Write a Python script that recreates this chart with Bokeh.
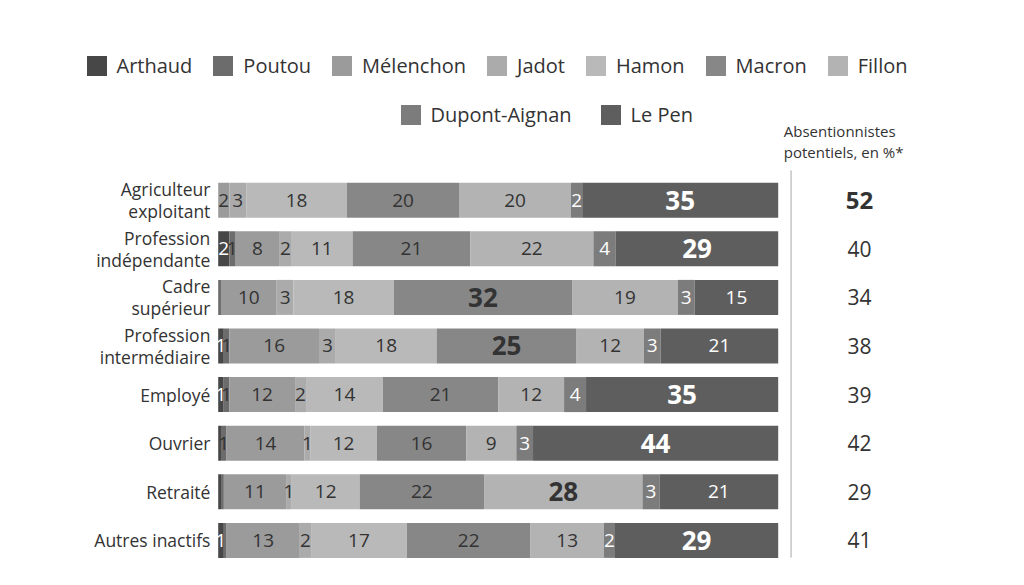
from bokeh.plotting import figure
from bokeh.models import ColumnDataSource, Range1d, Legend, LegendItem
from bokeh.core.properties import value
from bokeh.embed import file_html
from bokeh.resources import INLINE

categories = ["Agriculteur\nexploitant", "Profession\nindépendante", "Cadre\nsupérieur",
              "Profession\nintermédiaire", "Employé", "Ouvrier", "Retraité", "Autres inactifs"]
candidates = ["Arthaud", "Poutou", "Mélenchon", "Jadot", "Hamon", "Macron", "Fillon",
              "Dupont-Aignan", "Le Pen"]
keys = ["arthaud", "poutou", "melenchon", "jadot", "hamon", "macron", "fillon",
        "dupont_aignan", "le_pen"]

arthaud = [0, 2, 0, 1, 1, 0.5, 0.5, 1]
poutou = [0, 1, 0.5, 1, 1, 1, 0.5, 0.5]
melenchon = [2, 8, 10, 16, 12, 14, 11, 13]
jadot = [3, 2, 3, 3, 2, 1, 1, 2]
hamon = [18, 11, 18, 18, 14, 12, 12, 17]
macron = [20, 21, 32, 25, 21, 16, 22, 22]
fillon = [20, 22, 19, 12, 12, 9, 28, 13]
dupont_aignan = [2, 4, 3, 3, 4, 3, 3, 2]
le_pen = [35, 29, 15, 21, 35, 44, 21, 29]
abstention = [52, 40, 34, 38, 39, 42, 29, 41]

colors = ["#474747", "#6c6c6c", "#9b9b9b", "#ababab", "#b9b9b9", "#878787", "#b3b3b3",
          "#7c7c7c", "#5e5e5e"]
white_text = {"arthaud", "dupont_aignan", "le_pen"}

series = [arthaud, poutou, melenchon, jadot, hamon, macron, fillon, dupont_aignan, le_pen]
rows = list(range(len(categories)))
totals = [sum(s[i] for s in series) for i in rows]

data = {"y": rows}
for k, s in zip(keys, series):
    data[k] = [s[i] / totals[i] * 100 for i in rows]
source = ColumnDataSource(data)

FONT = value("Open Sans")
DARK = "#333333"

p = figure(width=1008, height=569, x_range=Range1d(-38.875, 141.125), y_range=Range1d(7.599, -4.109),
           min_border=0, toolbar_location=None, output_backend="svg")
p.axis.visible = False
p.grid.visible = False
p.outline_line_color = None
p.background_fill_color = "white"

renderers = p.hbar_stack(keys, y="y", height=0.72, color=colors, line_color=None, source=source)

# segment labels
norm = dict(x=[], y=[], text=[], color=[])
bold = dict(x=[], y=[], text=[], color=[])
for i in rows:
    cum = 0.0
    rowmax = max(s[i] for s in series)
    for k, s in zip(keys, series):
        share = data[k][i]
        v = s[i]
        if v >= 1:
            d = bold if v == rowmax else norm
            d["x"].append(cum + share / 2)
            d["y"].append(i)
            d["text"].append(str(int(v)))
            d["color"].append("white" if k in white_text else DARK)
        cum += share

p.text(x="x", y="y", text="text", text_color="color", source=ColumnDataSource(norm),
       text_align="center", text_baseline="middle", text_font=FONT, text_font_size="19px")
p.text(x="x", y="y", text="text", text_color="color", source=ColumnDataSource(bold),
       text_align="center", text_baseline="middle", text_font=FONT, text_font_size="26px",
       text_font_style="bold")

# category labels
p.text(x=[-1.4] * len(rows), y=rows, text=categories, text_align="right", text_baseline="middle",
       text_font=FONT, text_font_size="17.5px", text_color=DARK, text_line_height=0.92)

# right column
p.segment(x0=[102.3], y0=[-0.61], x1=[102.3], y1=[7.35], line_color="#c4c4c4", line_width=1.5)
p.text(x=[101.0], y=[-1.21], text=["Absentionnistes\npotentiels, en %*"], text_align="left",
       text_baseline="middle", text_font=FONT, text_font_size="15px", text_color=DARK,
       text_line_height=1.03)
amax = max(abstention)
ab_n = dict(x=[114.5 for i in rows if abstention[i] != amax], y=[i for i in rows if abstention[i] != amax],
            text=[str(abstention[i]) for i in rows if abstention[i] != amax])
ab_b = dict(x=[114.5 for i in rows if abstention[i] == amax], y=[i for i in rows if abstention[i] == amax],
            text=[str(abstention[i]) for i in rows if abstention[i] == amax])
p.text(x="x", y="y", text="text", source=ColumnDataSource(ab_n), text_align="center",
       text_baseline="middle", text_font=FONT, text_font_size="21px", text_color=DARK)
p.text(x="x", y="y", text="text", source=ColumnDataSource(ab_b), text_align="center",
       text_baseline="middle", text_font=FONT, text_font_size="24px", text_color=DARK,
       text_font_style="bold")

items = [LegendItem(label=n, renderers=[r]) for n, r in zip(candidates, renderers)]
common = dict(orientation="horizontal", glyph_width=25, glyph_height=25, label_standoff=8,
              padding=0, margin=0, border_line_color=None, background_fill_alpha=0,
              label_text_font="Open Sans", label_text_font_size="20px", label_text_color=DARK,
              label_height=25)
leg1 = Legend(items=items[:7], location=(83.5, 490.5), spacing=18, **common)
leg2 = Legend(items=items[7:], location=(397.5, 441.5), spacing=26, **common)
p.add_layout(leg1)
p.add_layout(leg2)

open("out.html", "w").write(file_html(p, INLINE))
